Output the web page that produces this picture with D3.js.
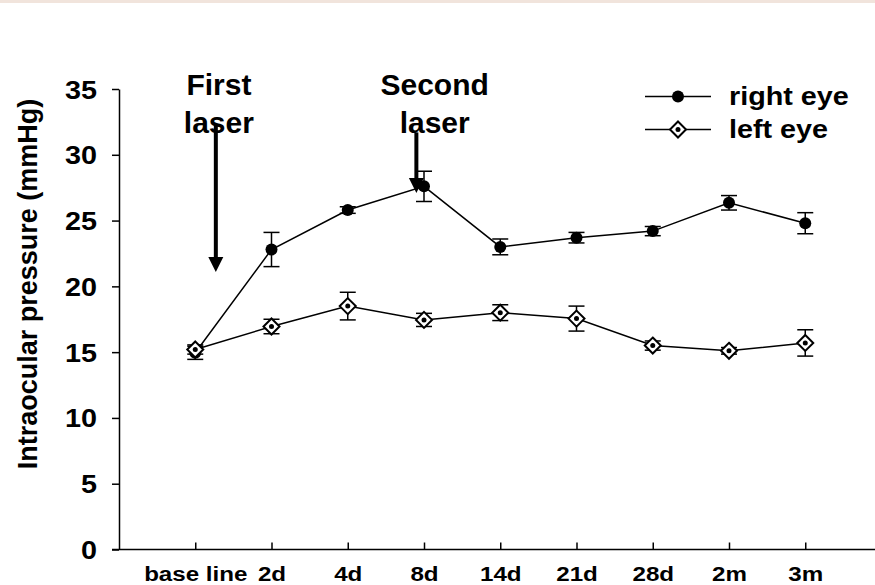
<!DOCTYPE html>
<html>
<head>
<meta charset="utf-8">
<script src="https://cdn.jsdelivr.net/npm/d3@7"></script>
<style>
  body { margin: 0; background: #fff; }
  text { font-family: "Liberation Sans", Arial, sans-serif; font-weight: bold; fill: #000; }
</style>
</head>
<body>
<div id="chart"></div>
<script>
// data
const categories = ["base line", "2d", "4d", "8d", "14d", "21d", "28d", "2m", "3m"];
const rightEye = [14.95, 22.8, 25.8, 27.6, 23.0, 23.7, 24.2, 26.35, 24.8];
const rightErr = [0.5, 1.3, 0.25, 1.15, 0.6, 0.4, 0.35, 0.55, 0.8];
const leftEye = [15.2, 16.95, 18.5, 17.45, 18.0, 17.55, 15.5, 15.1, 15.7];
const leftErr = [0.35, 0.55, 1.05, 0.5, 0.6, 0.95, 0.35, 0.25, 1.0];
const yTicks = [0, 5, 10, 15, 20, 25, 30, 35];
const seriesNames = ["right eye", "left eye"];
// laser annotations: x in category-index space, y values in mmHg
const lasers = [
  { label: ["First", "laser"], x: 1.27, from: 32.3, to: 21.1, textX: 1.31 },
  { label: ["Second", "laser"], x: 3.9, from: 31.7, to: 27.1, textX: 4.14 }
];

const W = 875, H = 585;
const stretch = 1.15;

const svg = d3.select("#chart").append("svg")
  .attr("width", W).attr("height", H);

svg.append("rect").attr("x", 0).attr("y", 0).attr("width", W).attr("height", 3)
  .attr("fill", "#f1e4dc");

const x = d3.scaleLinear().domain([0, 10]).range([119, 881.5]);
const y = d3.scaleLinear().domain([0, 35]).range([549.5, 89]);

// y axis
const yAxis = d3.axisLeft(y).tickValues(yTicks).tickSize(7).tickSizeOuter(0).tickPadding(15);
const gy = svg.append("g").attr("transform", "translate(" + x(0) + ",0)").call(yAxis);
gy.select(".domain").attr("stroke", "#000").attr("stroke-width", 1.5);
gy.selectAll(".tick line").attr("stroke", "#000").attr("stroke-width", 1.5);
gy.selectAll(".tick text")
  .attr("font-size", 25).attr("font-family", null)
  .attr("x", -22 / stretch).attr("dy", "0.36em")
  .attr("transform", "scale(" + stretch + ",1)");

// x axis
const xAxis = d3.axisBottom(x).tickValues(d3.range(1, 10))
  .tickFormat(i => categories[i - 1]).tickSizeInner(-7).tickSizeOuter(0);
const gx = svg.append("g").attr("transform", "translate(0," + y(0) + ")").call(xAxis);
gx.select(".domain").attr("stroke", "#000").attr("stroke-width", 1.5)
  .attr("d", "M" + (x(0) - 7) + ",0H" + W);
gx.selectAll(".tick line").attr("stroke", "#000").attr("stroke-width", 1.5);
gx.selectAll(".tick text")
  .attr("font-size", 21).attr("font-family", null)
  .attr("y", 32).attr("dy", null)
  .attr("transform", "scale(" + stretch + ",1)");

// y title
svg.append("text")
  .attr("transform", "translate(37," + 284 + ") rotate(-90)")
  .attr("text-anchor", "middle")
  .attr("font-size", 27)
  .text("Intraocular pressure (mmHg)");

const line = d3.line().x((d, i) => x(i + 1)).y(d => y(d));

function drawErrors(vals, errs) {
  const g = svg.append("g").attr("stroke", "#000").attr("stroke-width", 1.5);
  vals.forEach((v, i) => {
    const cx = x(i + 1);
    g.append("line").attr("x1", cx).attr("x2", cx).attr("y1", y(v - errs[i])).attr("y2", y(v + errs[i]));
    g.append("line").attr("x1", cx - 8).attr("x2", cx + 8).attr("y1", y(v - errs[i])).attr("y2", y(v - errs[i]));
    g.append("line").attr("x1", cx - 8).attr("x2", cx + 8).attr("y1", y(v + errs[i])).attr("y2", y(v + errs[i]));
  });
}

function circleMarker(g, cx, cy) {
  g.append("circle").attr("cx", cx).attr("cy", cy).attr("r", 6).attr("fill", "#000");
}
function diamondMarker(g, cx, cy) {
  const s = 8;
  g.append("path")
    .attr("d", "M" + cx + "," + (cy - s) + "L" + (cx + s) + "," + cy + "L" + cx + "," + (cy + s) + "L" + (cx - s) + "," + cy + "Z")
    .attr("fill", "#fff").attr("stroke", "#000").attr("stroke-width", 2);
  g.append("circle").attr("cx", cx).attr("cy", cy).attr("r", 2.5).attr("fill", "#000");
}

// right eye
drawErrors(rightEye, rightErr);
svg.append("path").datum(rightEye).attr("d", line)
  .attr("fill", "none").attr("stroke", "#000").attr("stroke-width", 1.5);
const gr = svg.append("g");
rightEye.forEach((v, i) => circleMarker(gr, x(i + 1), y(v)));

// left eye
drawErrors(leftEye, leftErr);
svg.append("path").datum(leftEye).attr("d", line)
  .attr("fill", "none").attr("stroke", "#000").attr("stroke-width", 1.5);
const gl = svg.append("g");
leftEye.forEach((v, i) => diamondMarker(gl, x(i + 1), y(v)));

// laser annotations
lasers.forEach(a => {
  const tx = x(a.textX);
  svg.append("text").attr("x", tx).attr("y", 95).attr("text-anchor", "middle")
    .attr("font-size", 30).text(a.label[0]);
  svg.append("text").attr("x", tx).attr("y", 133).attr("text-anchor", "middle")
    .attr("font-size", 30).text(a.label[1]);
  const ax = x(a.x), y0 = y(a.from), y1 = y(a.to);
  svg.append("line").attr("x1", ax).attr("x2", ax).attr("y1", y0).attr("y2", y1 - 14)
    .attr("stroke", "#000").attr("stroke-width", 4);
  svg.append("path")
    .attr("d", "M" + (ax - 7.5) + "," + (y1 - 15) + "L" + (ax + 7.5) + "," + (y1 - 15) + "L" + ax + "," + y1 + "Z")
    .attr("fill", "#000");
});

// legend
const legend = svg.append("g");
seriesNames.forEach((name, i) => {
  const ly = 96.5 + i * 33;
  legend.append("line").attr("x1", 645).attr("x2", 711).attr("y1", ly).attr("y2", ly)
    .attr("stroke", "#000").attr("stroke-width", 1.5);
  if (i === 0) circleMarker(legend, 678, ly); else diamondMarker(legend, 678, ly);
  legend.append("text").attr("x", 729 / stretch).attr("y", ly + 8.5)
    .attr("transform", "scale(" + stretch + ",1)")
    .attr("font-size", 25).text(name);
});
</script>
</body>
</html>
